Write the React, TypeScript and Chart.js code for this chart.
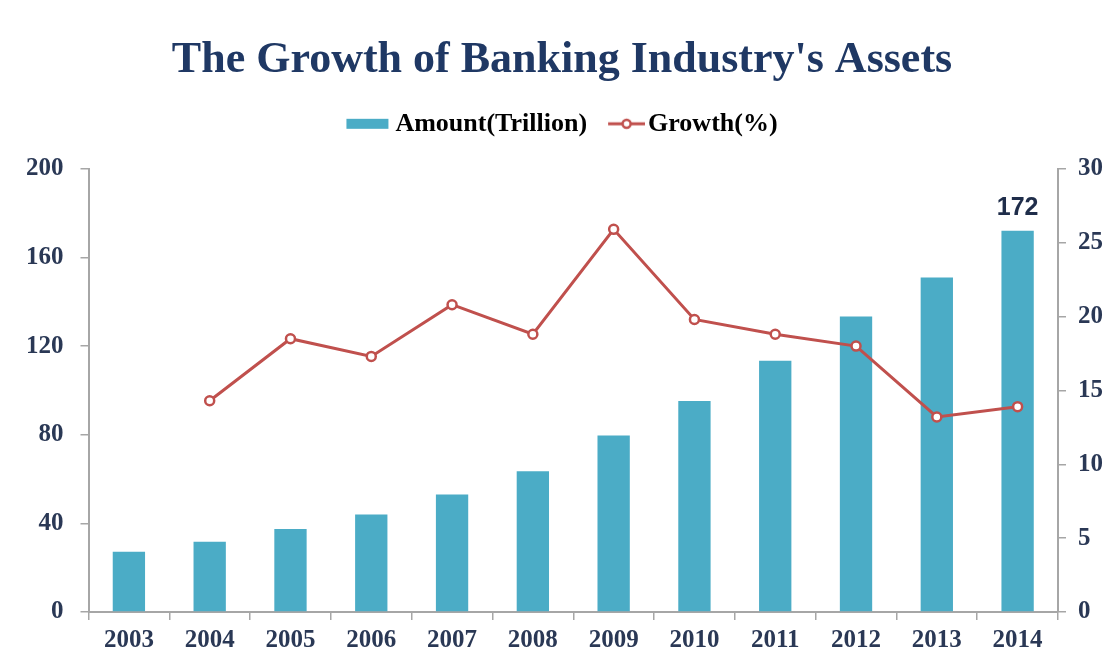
import React, { useEffect, useRef } from "react";
import { Chart, registerables } from "chart.js";

Chart.register(...registerables);

const years = ["2003", "2004", "2005", "2006", "2007", "2008", "2009", "2010", "2011", "2012", "2013", "2014"];
const amountTrillion = [27.2, 31.7, 37.4, 44, 53, 63.5, 79.7, 95.2, 113.4, 133.3, 151, 172];
const growthPct: (number | null)[] = [null, 14.3, 18.5, 17.3, 20.8, 18.8, 25.9, 19.8, 18.8, 18.0, 13.2, 13.9];
const leftTicks = [0, 40, 80, 120, 160, 200];
const rightTicks = [0, 5, 10, 15, 20, 25, 30];
const labeledIndex = 11;
const labeledText = "172";

const BAR = "#4BACC6";
const LINE = "#C0504D";
const NAVY = "#1F3864";
const TEXT = "#2A3855";
const AXIS = "#A6A6A6";
const SERIF = "'Liberation Serif', 'DejaVu Serif', serif";

function makeSwatch(kind: "bar" | "line"): HTMLCanvasElement {
  const c = document.createElement("canvas");
  c.height = 14;
  if (kind === "bar") {
    c.width = 50;
    const ctx = c.getContext("2d")!;
    ctx.fillStyle = BAR;
    ctx.fillRect(7, 2, 42, 10);
  } else {
    c.width = 56;
    const ctx = c.getContext("2d")!;
    ctx.strokeStyle = LINE;
    ctx.lineWidth = 3;
    ctx.beginPath();
    ctx.moveTo(19, 7);
    ctx.lineTo(56, 7);
    ctx.stroke();
    ctx.fillStyle = "#fff";
    ctx.lineWidth = 2.5;
    ctx.beginPath();
    ctx.arc(37.5, 7, 4, 0, Math.PI * 2);
    ctx.fill();
    ctx.stroke();
  }
  return c;
}

const valueLabelPlugin = {
  id: "valueLabel",
  afterDatasetsDraw(chart: any) {
    const meta = chart.getDatasetMeta(0);
    const el = meta.data[labeledIndex];
    if (!el) return;
    const ctx = chart.ctx;
    ctx.save();
    ctx.font = "bold 25px 'Liberation Sans', Arial, sans-serif";
    ctx.fillStyle = "#1F2D4A";
    ctx.textAlign = "center";
    ctx.textBaseline = "alphabetic";
    ctx.fillText(labeledText, el.x, el.y - 16);
    ctx.restore();
  },
};

const legendSpacePlugin = {
  id: "legendSpace",
  beforeInit(chart: any) {
    const legend = chart.legend;
    if (!legend) return;
    const origFit = legend.fit;
    legend.fit = function () {
      origFit.call(this);
      this.height += 22;
    };
  },
};

export default function App() {
  const ref = useRef<HTMLCanvasElement | null>(null);

  useEffect(() => {
    document.body.style.margin = "0";
    const barSwatch = makeSwatch("bar");
    const lineSwatch = makeSwatch("line");
    const tickFont = { family: SERIF, size: 25, weight: "bold" as const };
    const chart = new Chart(ref.current!, {
      type: "bar",
      data: {
        labels: years,
        datasets: [
          {
            type: "bar",
            label: "Amount(Trillion)",
            data: amountTrillion,
            backgroundColor: BAR,
            yAxisID: "y",
            barPercentage: 0.4,
            categoryPercentage: 1,
            order: 2,
          },
          {
            type: "line",
            label: "Growth(%)",
            data: growthPct,
            borderColor: LINE,
            borderWidth: 3,
            pointRadius: 4.5,
            pointBorderWidth: 2.5,
            pointBackgroundColor: "#fff",
            pointBorderColor: LINE,
            yAxisID: "y1",
            tension: 0,
            order: 1,
          },
        ] as any,
      },
      options: {
        animation: false,
        responsive: true,
        maintainAspectRatio: false,
        layout: { padding: { left: 9, right: -8, top: 0, bottom: 0 } },
        plugins: {
          title: {
            display: true,
            text: "The Growth of Banking Industry's Assets",
            color: NAVY,
            font: { family: SERIF, size: 44, weight: "bold" },
            padding: { top: 34, bottom: 12 },
          },
          legend: {
            display: true,
            position: "top",
            labels: {
              usePointStyle: true,
              pointStyleWidth: 36,
              color: TEXT,
              font: { family: SERIF, size: 26, weight: "bold" },
              padding: 12,
              generateLabels: () => [
                { text: "Amount(Trillion)", pointStyle: barSwatch as any, fillStyle: BAR, strokeStyle: BAR, lineWidth: 0, datasetIndex: 0, hidden: false } as any,
                { text: "Growth(%)", pointStyle: lineSwatch as any, fillStyle: "#fff", strokeStyle: LINE, lineWidth: 0, datasetIndex: 1, hidden: false } as any,
              ],
            },
          },
          tooltip: { enabled: false },
        },
        scales: {
          x: {
            offset: true,
            grid: { display: true, drawOnChartArea: false, offset: true, tickLength: 8, color: AXIS, lineWidth: 1.5 },
            border: { display: true, color: AXIS, width: 2 },
            ticks: { color: TEXT, font: tickFont, padding: 6 },
          },
          y: {
            position: "left",
            min: 0,
            max: 200,
            afterBuildTicks: (s: any) => { s.ticks = leftTicks.map((v) => ({ value: v })); },
            grid: { display: true, drawOnChartArea: false, tickLength: 8, color: AXIS, lineWidth: 1.5 },
            border: { display: true, color: AXIS, width: 2 },
            ticks: { color: TEXT, font: tickFont, padding: 17 },
          },
          y1: {
            position: "right",
            min: 0,
            max: 30,
            afterBuildTicks: (s: any) => { s.ticks = rightTicks.map((v) => ({ value: v })); },
            grid: { display: true, drawOnChartArea: false, tickLength: 8, color: AXIS, lineWidth: 1.5 },
            border: { display: true, color: AXIS, width: 2 },
            ticks: { color: TEXT, font: tickFont, padding: 12 },
          },
        },
      },
      plugins: [legendSpacePlugin, valueLabelPlugin],
    });
    return () => chart.destroy();
  }, []);

  return (
    <div style={{ position: "absolute", left: 0, top: 0, width: 1107, height: 662, background: "#fff" }}>
      <canvas ref={ref} />
    </div>
  );
}
